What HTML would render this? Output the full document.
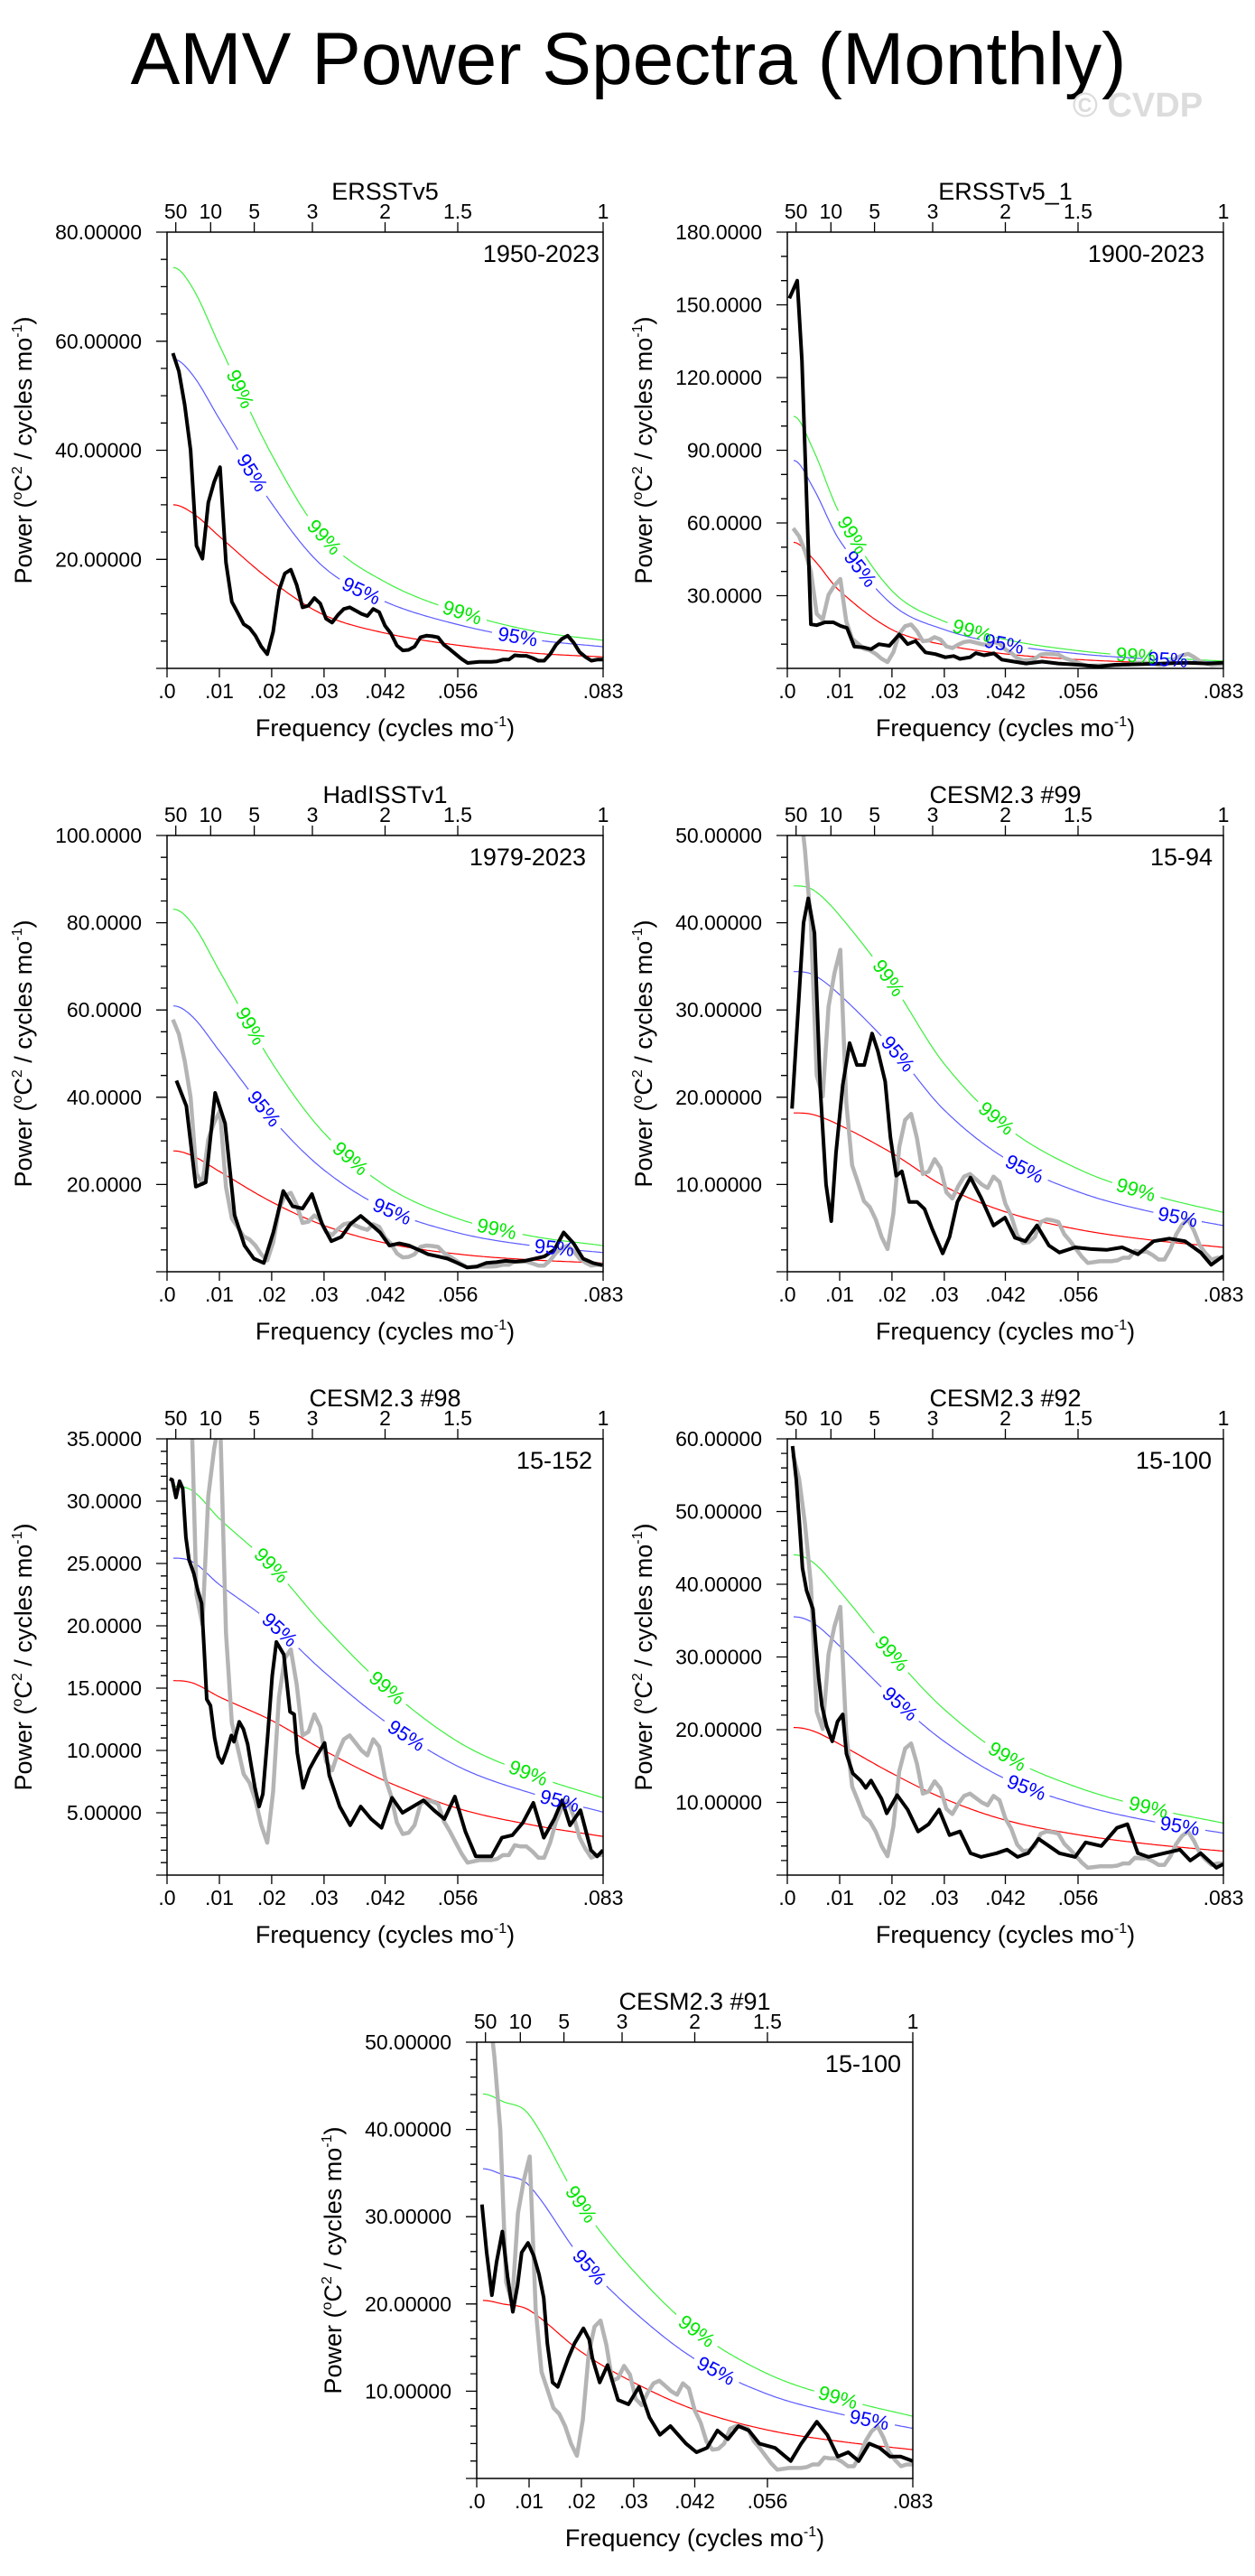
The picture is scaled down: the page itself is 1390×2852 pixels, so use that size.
<!DOCTYPE html>
<html><head><meta charset="utf-8">
<style>
html,body{margin:0;padding:0;background:#fff;}
svg{display:block;font-family:"Liberation Sans",Arial,sans-serif;}
</style></head>
<body>
<svg id="chart" width="1390" height="2852" viewBox="0 0 1390 2852" xmlns="http://www.w3.org/2000/svg">
<text x="696" y="93" font-size="82" text-anchor="middle" fill="#000">AMV Power Spectra (Monthly)</text>
<text x="1260" y="129" font-size="38" font-weight="bold" text-anchor="middle" fill="#dcdcdc">© CVDP</text>
</svg>
<script>
// ---------- data ----------
const xTickVals = [0, 0.01, 0.02, 0.03, 0.04167, 0.05556, 0.08333];
const xTickLabels = [".0", ".01", ".02", ".03", ".042", ".056", ".083"];
const periodTicks = [50, 10, 5, 3, 2, 1.5, 1];
const periodLabels = ["50", "10", "5", "3", "2", "1.5", "1"];
const redFreq = [0.0012, 0.005, 0.01, 0.02, 0.03, 0.042, 0.056, 0.07, 0.0833];

// ERSSTv5 1950-2023 (also gray reference in other panels), df = 1/888
const p1DF = 1/888;
const p1Black = [57.8,54.5,48.3,40.0,22.5,20.1,30.4,34.2,36.9,19.4,12.2,10.2,8.1,7.4,6.0,4.0,2.6,6.7,14.3,17.4,18.1,15.3,11.2,11.5,12.9,11.9,9.1,8.4,9.8,10.9,11.2,10.6,10.0,9.6,10.9,10.3,7.8,6.4,4.2,3.3,3.4,4.0,5.7,6.0,5.9,5.7,4.3,3.5,2.6,1.7,1.0,1.1,1.2,1.2,1.2,1.3,1.6,1.6,2.4,2.3,2.3,1.9,1.4,1.4,2.6,4.3,5.4,6.0,4.7,3.0,2.1,1.4,1.6,1.6];
const p1Red = [30,28.4,24.2,16,9.8,6.4,4.2,2.8,2.1];

const p2Freq = [.0004,.0019,.0028,.0045,.0056,.0072,.0088,.0102,.0114,.0128,.0145,.016,.0175,.0195,.0214,.023,.0245,.0264,.0283,.0302,.0318,.033,.0349,.036,.0376,.0395,.041,.0433,.0456,.0487,.0518,.0556,.0595,.0626,.0672,.0718,.0764,.0803,.0833];
const p2Black = [152.7,160,127,18.2,17.8,19,19,17.5,16.7,9,8.7,7.9,10,9.3,14,10,11.3,6.6,5.9,4.6,5.1,3.9,4.6,6.3,5.4,6.2,3.6,2.8,2.0,2.8,2.0,1.5,0.8,1.5,1.7,2.0,2.3,2.0,2.3];
const p2Red = [52,45,32,16,9.7,5.9,3.6,2.3,1.5];

const p3Freq = [.0018,.0037,.0055,.0074,.0092,.0111,.0129,.0148,.0166,.0185,.0203,.0222,.0240,.0259,.0277,.0296,.0314,.0333,.0351,.0370,.0388,.0407,.0425,.0444,.0462,.0481,.0499,.0518,.0536,.0555,.0573,.0592,.0610,.0629,.0647,.0666,.0684,.0703,.0721,.0740,.0758,.0777,.0795,.0814,.0832];
const p3Black = [43.8,38,19.5,20.5,41,34,13,6,3,2,9,18.5,15,14.5,17.8,11,7,8,11,12.8,11,9,6,6.5,6,5,4,3.5,3,2,1,1.2,2,2.2,2.5,2.3,2.5,3,3.5,5,9,6.5,3,2,1.5];
const p3Red = [27.7,26.5,23,16,10.6,6.5,4,2.7,2];

const p4Freq = [.0009,.0031,.004,.0052,.0063,.0074,.0084,.0093,.0106,.0119,.0133,.0147,.0162,.0173,.0187,.0197,.0208,.0219,.0233,.0248,.0262,.0277,.0297,.031,.0325,.035,.037,.0394,.0416,.0435,.0455,.0477,.05,.052,.055,.058,.061,.064,.067,.07,.073,.076,.079,.081,.0833];
const p4Black = [18.7,40,42.8,38.8,21,10,5.8,13.6,21.4,26.2,23.7,23.7,27.3,25.3,21.8,15.4,11,11.5,8,8,7.2,4.9,2.1,4,8,10.8,8.5,5.3,6.2,3.9,3.5,5.3,3,2.2,2.8,2.6,2.5,2.8,2,3.5,3.8,3.5,2.2,0.8,1.8];
const p4Red = [18.2,18,16.8,13.6,9.8,6.8,4.8,3.6,2.8];

const p5Freq = [.0005,.001,.0017,.0024,.003,.0036,.0042,.0051,.0059,.0066,.0071,.0076,.0083,.0091,.0098,.0105,.0114,.0123,.0128,.0138,.0146,.0154,.016,.0168,.0176,.0183,.0192,.0201,.0209,.0223,.0235,.0243,.0249,.026,.0272,.0285,.0301,.031,.033,.035,.037,.039,.041,.043,.045,.047,.049,.051,.053,.055,.057,.059,.062,.064,.066,.068,.07,.072,.074,.0755,.077,.079,.081,.0822,.0833];
const p5Black = [31.8,31.7,30.3,31.6,31,27.1,25.3,24.2,22.8,21.8,18,14.1,13.6,11,9.5,9,10,11.2,10.7,12.3,11.7,10.5,9,7,5.5,6.5,11,16,18.7,17.7,13.1,12.9,9.8,7,8.5,9.5,10.6,8,5.5,4,5.5,4.5,3.8,6.2,5,5.5,6,5.2,4.5,6.3,3.5,1.5,1.5,3,3.2,4.2,5.8,3,4.5,6,4,5.2,2,1.5,2];
const p5Red = [15.6,15.4,14.3,12.4,10,7.5,5.3,4,3.1];

const p6Freq = [.001,.0017,.0023,.0029,.0037,.0049,.0055,.006,.0066,.0075,.0086,.0096,.0106,.0113,.0125,.014,.015,.016,.018,.019,.021,.023,.025,.027,.029,.031,.033,.035,.037,.04,.042,.044,.046,.048,.05,.052,.055,.057,.06,.063,.065,.067,.069,.072,.075,.077,.079,.082,.0833];
const p6Black = [59,54.4,48.6,42.2,39.1,36.6,31.2,27.1,23.3,20.5,18.4,21.1,22.1,16.7,14,13,12,13,10.5,8.5,11,9,6,7,9,5.5,6,3,2.5,3,3.5,2.5,3,5,4,3,2.5,4.5,4,6.5,7,3,2.5,3,3.5,2,3,1,1.5];
const p6Red = [20.3,19.8,18,14,10.5,7.5,5.5,4.2,3.3];

const p7Freq = [.001,.0019,.0029,.0038,.0049,.0059,.0069,.0078,.0086,.0098,.0109,.0119,.0128,.0135,.0145,.0155,.0175,.0187,.0204,.0215,.0221,.0235,.025,.027,.029,.031,.033,.035,.037,.04,.042,.044,.046,.048,.05,.052,.054,.057,.06,.062,.065,.067,.069,.071,.073,.075,.077,.079,.081,.0833];
const p7Black = [31.4,25.9,21,24.8,28.3,23.1,19.1,22.1,25.9,27,25.5,23.4,20.7,15.5,11,10.5,13.8,15.5,17.2,15.9,13.8,11,13,9,8.5,10.5,7,5,6,4,3,3.5,5.5,4.5,6,5.5,4,3.5,2,4,6.5,5,2.5,3,2,4,3.5,2.5,2.5,2];
const p7Red = [20.4,20.0,19.3,14.5,11,7.8,5.5,4.2,3.3];

// ---------- layout / styles ----------
const SZ = 483;
const NS = 'http://www.w3.org/2000/svg';
const svg = document.getElementById('chart');

const panels = [
  {id:'ersstv5', title:'ERSSTv5', years:'1950-2023', x:185, y:257, ymax:80, major:20, minor:5, ylabels:['20.00000','40.00000','60.00000','80.00000'], yoff:4,
   black:p1Black, blackF:null, gray:false, red:p1Red, fb:1.89, fg:2.45, lab99:[.0139,.030,.0564], lab95:[.0162,.0371,.067]},
  {id:'ersstv5-1', title:'ERSSTv5_1', years:'1900-2023', x:872, y:257, ymax:180, major:30, minor:10, ylabels:['30.0000','60.0000','90.0000','120.0000','150.0000','180.0000'], yoff:21,
   black:p2Black, blackF:p2Freq, gray:true, red:p2Red, fb:1.65, fg:2.0, lab99:[.0124,.0353,.0666], lab95:[.0139,.0414,.0727]},
  {id:'hadisstv1', title:'HadISSTv1', years:'1979-2023', x:185, y:925, ymax:100, major:20, minor:5, ylabels:['20.0000','40.0000','60.0000','80.0000','100.0000'], yoff:19,
   black:p3Black, blackF:p3Freq, gray:true, red:p3Red, fb:2.2, fg:3.0, lab99:[.0159,.035,.063], lab95:[.0185,.043,.074]},
  {id:'cesm-99', title:'CESM2.3 #99', years:'15-94', x:872, y:925, ymax:50, major:10, minor:2.5, ylabels:['10.00000','20.00000','30.00000','40.00000','50.00000'], yoff:12,
   black:p4Black, blackF:p4Freq, gray:true, red:p4Red, fb:1.89, fg:2.43, lab99:[.0193,.0399,.0666], lab95:[.0211,.0453,.0746]},
  {id:'cesm-98', title:'CESM2.3 #98', years:'15-152', x:185, y:1593, ymax:35, major:5, minor:1, ylabels:['5.00000','10.0000','15.0000','20.0000','25.0000','30.0000','35.0000'], yoff:12,
   black:p5Black, blackF:p5Freq, gray:true, red:p5Red, fb:1.63, fg:2.0, lab99:[.0199,.042,.069], lab95:[.0215,.0457,.075]},
  {id:'cesm-92', title:'CESM2.3 #92', years:'15-100', x:872, y:1593, ymax:60, major:10, minor:2, ylabels:['10.00000','20.00000','30.00000','40.00000','50.00000','60.00000'], yoff:13,
   black:p6Black, blackF:p6Freq, gray:true, red:p6Red, fb:1.75, fg:2.17, lab99:[.0199,.042,.069], lab95:[.0215,.0457,.075]},
  {id:'cesm-91', title:'CESM2.3 #91', years:'15-100', x:528, y:2261, ymax:50, major:10, minor:2, ylabels:['10.00000','20.00000','30.00000','40.00000','50.00000'], yoff:13,
   black:p7Black, blackF:p7Freq, gray:true, red:p7Red, fb:1.74, fg:2.16, lab99:[.0199,.042,.069], lab95:[.0215,.0457,.075]}
];

function mk(tag, parent){ const e=document.createElementNS(NS,tag); parent.appendChild(e); return e; }
function crInterp(xs, ys, x){
  let i=0; while(i<xs.length-2 && x>xs[i+1]) i++;
  const x0=xs[Math.max(i-1,0)], x1=xs[i], x2=xs[i+1], x3=xs[Math.min(i+2,xs.length-1)];
  const y0=ys[Math.max(i-1,0)], y1=ys[i], y2=ys[i+1], y3=ys[Math.min(i+2,ys.length-1)];
  const t=Math.max(0,Math.min(1,(x-x1)/(x2-x1)));
  const h=x2-x1;
  const m1=(i===0?0:(y2-y0)/((x2-x0)||1))*h, m2=(y3-y1)/((x3-x1)||1)*h;
  const t2=t*t,t3=t2*t;
  return (2*t3-3*t2+1)*y1+(t3-2*t2+t)*m1+(-2*t3+3*t2)*y2+(t3-t2)*m2;
}

panels.forEach((p,pi)=>{
  const FMAX=1/12;
  const sx=f=>p.x+f/FMAX*SZ;
  const sy=v=>p.y+SZ-v/p.ymax*SZ;
  const g=mk('g',svg);
  
  

  const cp=mk('clipPath',g); cp.setAttribute('id','clip'+pi);
  const cr=mk('rect',cp); cr.setAttribute('x',p.x); cr.setAttribute('y',p.y); cr.setAttribute('width',SZ); cr.setAttribute('height',SZ);

  const t=mk('text',g); t.textContent=p.title;
  t.setAttribute('x',p.x+SZ/2); t.setAttribute('y',p.y-36); t.setAttribute('font-size','27'); t.setAttribute('text-anchor','middle');
   
  const yr=mk('text',g); yr.textContent=p.years;
  yr.setAttribute('x',p.x+SZ-p.yoff); yr.setAttribute('y',p.y+33); yr.setAttribute('font-size','27'); yr.setAttribute('text-anchor','end');
   

  const cg=mk('g',g); cg.setAttribute('clip-path','url(#clip'+pi+')');
   

  const dense=[]; for(let k=0;k<=240;k++){ dense.push(redFreq[0]+(redFreq[redFreq.length-1]-redFreq[0])*k/240); }
  const sigs=[{name:'red-noise-curve',fac:1,col:'#ff0000',labs:[],txt:''},
              {name:'confidence-95-curve',fac:p.fb,col:'#5a5aff',labs:p.lab95,txt:'95%',tcol:'#0000ff'},
              {name:'confidence-99-curve',fac:p.fg,col:'#3cf03c',labs:p.lab99,txt:'99%',tcol:'#00e600'}];
  sigs.forEach(s=>{
    const pts=dense.map(f=>[sx(f),sy(crInterp(redFreq,p.red,f)*s.fac)]);
    const centers=s.labs.map(lf=>{
      const v=crInterp(redFreq,p.red,lf)*s.fac, v2=crInterp(redFreq,p.red,lf+0.0005)*s.fac;
      const x1=sx(lf),y1=sy(v),x2=sx(lf+0.0005),y2=sy(v2);
      return {x:x1,y:y1,ang:Math.atan2(y2-y1,x2-x1)*180/Math.PI};
    });
    let d='', pen=false;
    pts.forEach(pt=>{
      const hide=centers.some(c=>Math.hypot(pt[0]-c.x,pt[1]-c.y)<27);
      if(hide){pen=false;return;}
      d+=(pen?'L':'M')+pt[0].toFixed(1)+' '+pt[1].toFixed(1);
      pen=true;
    });
    const path=mk('path',cg);
    path.setAttribute('d',d); path.setAttribute('fill','none'); path.setAttribute('stroke',s.col); path.setAttribute('stroke-width','1.2');
     
    centers.forEach(c=>{
      const lt=mk('text',g); lt.textContent=s.txt;
      lt.setAttribute('x',c.x); lt.setAttribute('y',c.y+7); lt.setAttribute('font-size','22'); lt.setAttribute('text-anchor','middle');
      lt.setAttribute('fill',s.tcol);
      lt.setAttribute('transform','rotate('+c.ang.toFixed(1)+' '+c.x.toFixed(1)+' '+c.y.toFixed(1)+')');
       
    });
  });

  if(p.gray){
    const gd=p1Black.map((v,i)=>(i?'L':'M')+sx((i+1)*p1DF).toFixed(1)+' '+sy(v).toFixed(1)).join('');
    const gp=mk('path',cg);
    gp.setAttribute('d',gd); gp.setAttribute('fill','none'); gp.setAttribute('stroke','#b4b4b4'); gp.setAttribute('stroke-width','4.5'); gp.setAttribute('stroke-linejoin','round');
     
  }
  const bd=p.black.map((v,i)=>{const f=p.blackF?p.blackF[i]:(i+1)*p1DF; return (i?'L':'M')+sx(f).toFixed(1)+' '+sy(v).toFixed(1);}).join('');
  const bp=mk('path',cg);
  bp.setAttribute('d',bd); bp.setAttribute('fill','none'); bp.setAttribute('stroke','#000'); bp.setAttribute('stroke-width','4'); bp.setAttribute('stroke-linejoin','round');
   

  const fr=mk('rect',g);
  fr.setAttribute('x',p.x); fr.setAttribute('y',p.y); fr.setAttribute('width',SZ); fr.setAttribute('height',SZ);
  fr.setAttribute('fill','none'); fr.setAttribute('stroke','#000'); fr.setAttribute('stroke-width','1.5');
   

  let tk='';
  const nMin=Math.round(p.ymax/p.minor);
  for(let k=0;k<=nMin;k++){
    const v=k*p.minor, yy=sy(v);
    const isMaj=Math.abs(v/p.major-Math.round(v/p.major))<1e-6;
    tk+='M'+p.x+' '+yy.toFixed(1)+'h'+(isMaj?-12:-7);
  }
  xTickVals.forEach(f=>{ tk+='M'+sx(f).toFixed(1)+' '+(p.y+SZ)+'v10'; });
  periodTicks.forEach(per=>{ tk+='M'+sx(1/(12*per)).toFixed(1)+' '+p.y+'v-11'; });
  const tp=mk('path',g); tp.setAttribute('d',tk); tp.setAttribute('stroke','#000'); tp.setAttribute('stroke-width','1.3'); tp.setAttribute('fill','none');
   

  p.ylabels.forEach((lab,i)=>{
    const v=(i+1)*p.major;
    const yl=mk('text',g); yl.textContent=lab;
    yl.setAttribute('x',p.x-28); yl.setAttribute('y',sy(v)+8); yl.setAttribute('font-size','23'); yl.setAttribute('text-anchor','end');
     
  });
  xTickVals.forEach((f,i)=>{
    const xl=mk('text',g); xl.textContent=xTickLabels[i];
    xl.setAttribute('x',sx(f)); xl.setAttribute('y',p.y+SZ+33); xl.setAttribute('font-size','23'); xl.setAttribute('text-anchor','middle');
     
  });
  periodTicks.forEach((per,i)=>{
    const pl=mk('text',g); pl.textContent=periodLabels[i];
    pl.setAttribute('x',sx(1/(12*per))); pl.setAttribute('y',p.y-15); pl.setAttribute('font-size','23'); pl.setAttribute('text-anchor','middle');
     
  });

  const xt=mk('text',g);
  xt.setAttribute('x',p.x+SZ/2); xt.setAttribute('y',p.y+SZ+75); xt.setAttribute('font-size','27'); xt.setAttribute('text-anchor','middle');
   
  xt.innerHTML='Frequency (cycles mo<tspan dy="-11" font-size="16">-1</tspan><tspan dy="11">)</tspan>';
  const yt=mk('text',g);
  const cx=p.x-150, cy=p.y+SZ/2;
  yt.setAttribute('x',cx); yt.setAttribute('y',cy); yt.setAttribute('font-size','27'); yt.setAttribute('text-anchor','middle');
  yt.setAttribute('transform','rotate(-90 '+cx+' '+cy+')');
   
  yt.innerHTML='Power (<tspan dy="-11" font-size="16">o</tspan><tspan dy="11">C</tspan><tspan dy="-11" font-size="16">2</tspan><tspan dy="11"> / cycles mo</tspan><tspan dy="-11" font-size="16">-1</tspan><tspan dy="11">)</tspan>';
});
</script>
</body></html>
